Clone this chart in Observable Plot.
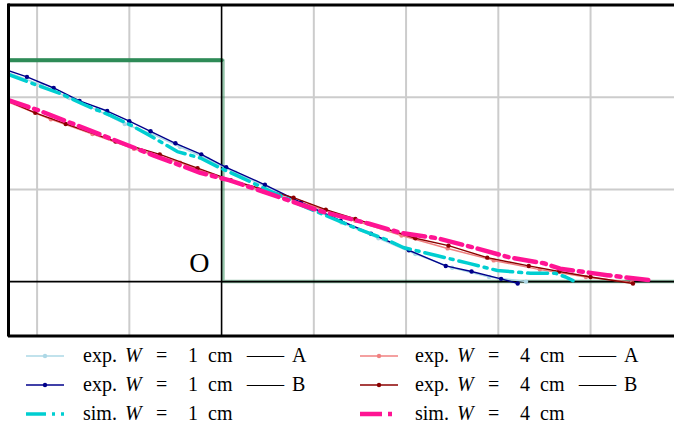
<!DOCTYPE html>
<html>
<head>
<meta charset="utf-8">
<script src="https://cdn.jsdelivr.net/npm/d3@7"></script>
<script src="https://cdn.jsdelivr.net/npm/@observablehq/plot@0.6"></script>
<style>
  body { margin: 0; background: #fff; }
  #chart { width: 674px; }
  #chart svg { display: block; }
</style>
</head>
<body>
<div id="chart"></div>
<script>
// ---- data ----
const xGrid = [-2, -1, 1, 2, 3, 4];
const yGrid = [1, 2];
const stepX = [-2.4, 0, 0, 5.2];
const stepY = [2.4, 2.4, 0, 0];
const topX = [-2.4, 0];
const topY = [2.4, 2.4];

const exp1A_x = [-2.32, -1.95, -1.65, -1.35, -1.05, -0.75, -0.45, -0.15, 0.15, 0.5, 0.9, 1.3, 1.7, 2.1, 2.5, 2.9, 3.3];
const exp1A_y = [2.27, 2.13, 1.99, 1.86, 1.71, 1.60, 1.46, 1.33, 1.18, 1.02, 0.83, 0.64, 0.47, 0.30, 0.15, 0.05, 0.0];

const exp1B_x = [-2.32, -2.11, -1.82, -1.54, -1.24, -1.00, -0.77, -0.50, -0.22, 0.05, 0.47, 0.86, 1.29, 1.62, 2.03, 2.43, 2.71, 3.03, 3.21];
const exp1B_y = [2.29, 2.22, 2.10, 1.96, 1.85, 1.74, 1.63, 1.50, 1.38, 1.24, 1.05, 0.86, 0.66, 0.52, 0.34, 0.17, 0.11, 0.03, -0.02];

const sim1_x = [-2.32, -2.0, -1.75, -1.47, -1.20, -0.99, -0.77, -0.48, -0.23, -0.01, 0.21, 0.53, 0.93, 1.43, 1.80, 1.97, 2.34, 2.67, 2.99, 3.35, 3.62, 3.73, 3.81];
const sim1_y = [2.25, 2.13, 2.04, 1.91, 1.80, 1.70, 1.58, 1.41, 1.34, 1.23, 1.13, 0.98, 0.80, 0.59, 0.45, 0.37, 0.28, 0.20, 0.12, 0.09, 0.09, 0.05, 0.01];

const exp4A_x = [-2.32, -1.85, -1.40, -0.95, -0.45, 0.0, 0.45, 0.95, 1.45, 1.95, 2.45, 2.95, 3.45, 3.95, 4.45];
const exp4A_y = [1.95, 1.76, 1.60, 1.44, 1.29, 1.12, 0.98, 0.83, 0.66, 0.50, 0.36, 0.23, 0.13, 0.05, -0.01];

const exp4B_x = [-2.32, -2.02, -1.69, -1.15, -0.67, -0.26, 0.10, 0.78, 1.13, 1.45, 2.10, 2.46, 2.88, 3.33, 3.66, 4.00, 4.46];
const exp4B_y = [1.96, 1.83, 1.71, 1.52, 1.38, 1.23, 1.10, 0.91, 0.78, 0.68, 0.47, 0.39, 0.26, 0.17, 0.11, 0.05, -0.02];

const sim4_x = [-2.32, -1.99, -1.20, -0.74, -0.23, 0.08, 0.44, 1.05, 1.59, 1.94, 2.34, 2.73, 3.13, 3.49, 3.67, 4.18, 4.68];
const sim4_y = [1.97, 1.86, 1.55, 1.37, 1.18, 1.10, 0.98, 0.77, 0.63, 0.53, 0.47, 0.37, 0.26, 0.20, 0.14, 0.07, 0.01];

const originLabel = "O";

// ---- build tables ----
const zip = (xs, ys) => xs.map((x, i) => ({x, y: ys[i]}));
const step = zip(stepX, stepY);
const topSeg = zip(topX, topY);

const series = [
  {key: "exp1A", data: zip(exp1A_x, exp1A_y), color: "#add8e6", width: 1.5, dots: true},
  {key: "exp4A", data: zip(exp4A_x, exp4A_y), color: "#f08080", width: 1.5, dots: true},
  {key: "exp1B", data: zip(exp1B_x, exp1B_y), color: "#00008b", width: 1.4, dots: true},
  {key: "exp4B", data: zip(exp4B_x, exp4B_y), color: "#8b0000", width: 1.4, dots: true},
  {key: "sim1", data: zip(sim1_x, sim1_y), color: "#00ced1", width: 3.5, dash: "20,6,3,6"},
  {key: "sim4", data: zip(sim4_x, sim4_y), color: "#ff1493", width: 4.5, dash: "22,6,4,6"}
];

const curveMarks = [];
for (const s of series) {
  curveMarks.push(Plot.line(s.data, {x: "x", y: "y", stroke: s.color, strokeWidth: s.width,
    strokeDasharray: s.dash, clip: true}));
  if (s.dots) curveMarks.push(Plot.dot(s.data, {x: "x", y: "y", fill: s.color, r: 2.2, clip: true}));
}

const xDomain = [-2.31, 4.91];
const yDomain = [-0.59, 3];

const plot = Plot.plot({
  width: 674,
  height: 340,
  marginLeft: 8,
  marginRight: 0,
  marginTop: 4.5,
  marginBottom: 4.5,
  x: {domain: xDomain, axis: null},
  y: {domain: yDomain, axis: null},
  style: {background: "white"},
  marks: [
    Plot.ruleX(xGrid, {stroke: "#cccccc", strokeWidth: 2}),
    Plot.ruleY(yGrid, {stroke: "#cccccc", strokeWidth: 2}),
    Plot.line(step, {x: d => d.x + 0.015, y: "y", stroke: "#2e8b57", strokeWidth: 3.5, strokeOpacity: 0.5, clip: true}),
    Plot.line(topSeg, {x: "x", y: "y", stroke: "#2e8b57", strokeWidth: 4, clip: true}),
    Plot.ruleX([0], {stroke: "black", strokeWidth: 1.6}),
    Plot.ruleY([0], {stroke: "black", strokeWidth: 1.6}),
    ...curveMarks,
    Plot.text([originLabel], {x: -0.24, y: 0.2, text: d => d, fontSize: 28,
      fontFamily: "Liberation Serif", fill: "black"}),
    Plot.ruleX([xDomain[0]], {stroke: "black", strokeWidth: 3, y1: yDomain[0] - 0.01, y2: yDomain[1] + 0.01}),
    Plot.ruleY([yDomain[1]], {stroke: "black", strokeWidth: 3}),
    Plot.ruleY([yDomain[0]], {stroke: "black", strokeWidth: 3})
  ]
});
document.getElementById("chart").appendChild(plot);

// ---- legend ----
const legendEntries = [
  {prefix: "exp.", val: "1", tail: "A", color: "#add8e6", width: 1.5, dots: true},
  {prefix: "exp.", val: "4", tail: "A", color: "#f08080", width: 1.5, dots: true},
  {prefix: "exp.", val: "1", tail: "B", color: "#00008b", width: 1.5, dots: true},
  {prefix: "exp.", val: "4", tail: "B", color: "#8b0000", width: 1.5, dots: true},
  {prefix: "sim.", val: "1", tail: null, color: "#00ced1", width: 3.5, dash: "20,6,3,6"},
  {prefix: "sim.", val: "4", tail: null, color: "#ff1493", width: 4.5, dash: "22,6,4,6"}
];

const leg = d3.create("svg").attr("width", 674).attr("height", 87)
  .style("display", "block").style("font-family", "Liberation Serif").style("font-size", "20px");
legendEntries.forEach((e, i) => {
  const col = i % 2, row = Math.floor(i / 2);
  const x0 = col === 0 ? 26 : 360;
  const tx = col === 0 ? 83 : 415;
  const cy = 16 + row * 29;
  const g = leg.append("g");
  g.append("line").attr("x1", x0).attr("x2", x0 + 38).attr("y1", cy).attr("y2", cy)
    .attr("stroke", e.color).attr("stroke-width", e.width).attr("stroke-dasharray", e.dash || null);
  if (e.dots) g.append("circle").attr("cx", x0 + 19).attr("cy", cy).attr("r", 2.2).attr("fill", e.color);
  const by = cy + 6;
  g.append("text").attr("x", tx).attr("y", by).text(e.prefix);
  g.append("text").attr("x", tx + 42).attr("y", by).style("font-style", "italic").text("W");
  g.append("text").attr("x", tx + 73).attr("y", by).text("=");
  g.append("text").attr("x", tx + 105).attr("y", by).text(e.val);
  g.append("text").attr("x", tx + 125).attr("y", by).text("cm");
  if (e.tail) {
    g.append("text").attr("x", tx + 164).attr("y", by).attr("textLength", 37)
      .attr("lengthAdjust", "spacingAndGlyphs").text("—");
    g.append("text").attr("x", tx + 209).attr("y", by).text(e.tail);
  }
});
document.getElementById("chart").appendChild(leg.node());
</script>
</body>
</html>
